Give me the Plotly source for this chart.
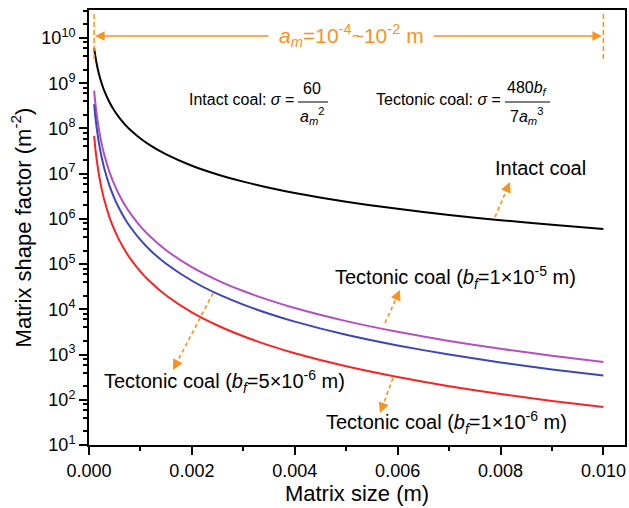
import plotly.graph_objects as go

# ---- data ----
a_m = [0.0001, 0.00012, 0.00015, 0.0002, 0.00025, 0.0003, 0.0004, 0.0005, 0.0006,
       0.0007, 0.0008, 0.001, 0.0012, 0.0015, 0.002, 0.0025, 0.003, 0.0035, 0.004,
       0.005, 0.006, 0.007, 0.008, 0.009, 0.01]
intact = [6.0e9, 4.17e9, 2.67e9, 1.5e9, 9.6e8, 6.67e8, 3.75e8, 2.4e8, 1.67e8, 1.22e8,
          9.38e7, 6.0e7, 4.17e7, 2.67e7, 1.5e7, 9.6e6, 6.67e6, 4.9e6, 3.75e6, 2.4e6,
          1.67e6, 1.22e6, 9.38e5, 7.41e5, 6.0e5]
tect_1e5 = [6.86e8, 3.97e8, 2.03e8, 8.57e7, 4.39e7, 2.54e7, 1.07e7, 5.49e6, 3.18e6, 2.0e6,
            1.34e6, 6.86e5, 3.97e5, 2.03e5, 8.57e4, 4.39e4, 2.54e4, 1.6e4, 1.07e4, 5490,
            3180, 2000, 1340, 941, 686]
tect_5e6 = [3.43e8, 1.98e8, 1.02e8, 4.29e7, 2.19e7, 1.27e7, 5.36e6, 2.74e6, 1.59e6, 1.0e6,
            6.7e5, 3.43e5, 1.98e5, 1.02e5, 4.29e4, 2.19e4, 1.27e4, 8000, 5360, 2740,
            1590, 1000, 670, 470, 343]
tect_1e6 = [6.86e7, 3.97e7, 2.03e7, 8.57e6, 4.39e6, 2.54e6, 1.07e6, 5.49e5, 3.18e5, 2.0e5,
            1.34e5, 6.86e4, 3.97e4, 2.03e4, 8570, 4390, 2540, 1600, 1070, 549,
            318, 200, 134, 94, 69]

y_tick_exp = [1, 2, 3, 4, 5, 6, 7, 8, 9, 10]
x_ticks = [0.000, 0.002, 0.004, 0.006, 0.008, 0.010]

FONT = "Liberation Sans, Arial, sans-serif"
ORANGE = "#F7931E"
W, H = 629, 508
L, R, T, B = 89, 4, 10, 63


def px(x):
    return (x - L) / (W - L - R)


def py(y):
    return (H - B - y) / (H - B - T)


fig = go.Figure()
series = [
    ("Intact coal", intact, "#000000"),
    ("bf=1e-5", tect_1e5, "#B44FC0"),
    ("bf=5e-6", tect_5e6, "#3A47B5"),
    ("bf=1e-6", tect_1e6, "#F52525"),
]
for name, ys, col in series:
    fig.add_trace(go.Scatter(x=a_m, y=ys, mode="lines", name=name,
                             line=dict(color=col, width=2, shape="spline", smoothing=0.6),
                             showlegend=False))

annotations = []
shapes = []


def text(x, y, s, size, color="black", xanchor="center"):
    annotations.append(dict(x=px(x), y=py(y), xref="paper", yref="paper", text=s,
                            showarrow=False, xanchor=xanchor, yanchor="middle",
                            font=dict(size=size, color=color, family=FONT)))


def dashed_arrow(x0, y0, x1, y1):
    dx, dy = x1 - x0, y1 - y0
    ln = (dx * dx + dy * dy) ** 0.5
    ux, uy = dx / ln, dy / ln
    hx, hy = x1 - ux * 9, y1 - uy * 9
    shapes.append(dict(type="line", xref="paper", yref="paper", x0=px(x0), y0=py(y0),
                       x1=px(hx), y1=py(hy), line=dict(color=ORANGE, width=1.6, dash="4px,3px")))
    annotations.append(dict(x=px(x1), y=py(y1), xref="paper", yref="paper", text="",
                            showarrow=True, ax=-ux * 10, ay=-uy * 10, arrowhead=2,
                            arrowsize=1.3, arrowwidth=1.6, arrowcolor=ORANGE, standoff=0))


# header range
text(351, 35, "<i>a</i><sub><i>m</i></sub>=10<sup>-4</sup>~10<sup>-2</sup> m", 21, ORANGE)
annotations.append(dict(x=px(95), y=py(36), xref="paper", yref="paper", text="", showarrow=True,
                        ax=175, ay=0, arrowhead=2, arrowsize=1.2, arrowwidth=1.6,
                        arrowcolor=ORANGE, standoff=0))
annotations.append(dict(x=px(602), y=py(36), xref="paper", yref="paper", text="", showarrow=True,
                        ax=-170, ay=0, arrowhead=2, arrowsize=1.2, arrowwidth=1.6,
                        arrowcolor=ORANGE, standoff=0))
for xv in (a_m[0], a_m[-1]):
    shapes.append(dict(type="line", xref="x", yref="paper", x0=xv, x1=xv, y0=py(14), y1=py(61),
                       line=dict(color=ORANGE, width=1.5, dash="5px,3px")))

# formulas
text(296, 100, "Intact coal: <i>σ</i> =", 16, xanchor="right")
text(312, 89, "60", 16)
shapes.append(dict(type="line", xref="paper", yref="paper", x0=px(298), x1=px(328),
                   y0=py(102), y1=py(102), line=dict(color="black", width=1)))
text(312, 116, "<i>a</i><sub><i>m</i></sub><sup>2</sup>", 16)

text(503, 100, "Tectonic coal: <i>σ</i> =", 16, xanchor="right")
text(527, 89, "480<i>b</i><sub><i>f</i></sub>", 16)
shapes.append(dict(type="line", xref="paper", yref="paper", x0=px(505), x1=px(550),
                   y0=py(102), y1=py(102), line=dict(color="black", width=1)))
text(526, 116, "7<i>a</i><sub><i>m</i></sub><sup>3</sup>", 16)

# curve labels
text(540, 168, "Intact coal", 20)
text(455, 277, "Tectonic coal (<i>b</i><sub><i>f</i></sub>=1×10<sup>-5</sup> m)", 20)
text(224, 381, "Tectonic coal (<i>b</i><sub><i>f</i></sub>=5×10<sup>-6</sup> m)", 20)
text(446, 422, "Tectonic coal (<i>b</i><sub><i>f</i></sub>=1×10<sup>-6</sup> m)", 20)

dashed_arrow(495, 217, 510, 182)
dashed_arrow(385, 323, 400, 290)
dashed_arrow(393, 378, 380, 413)
dashed_arrow(213, 293, 173, 370)

minor_y = [m * 10 ** e for e in range(1, 11) for m in (2, 4, 6, 8)]

fig.update_layout(
    width=W, height=H,
    margin=dict(l=L, r=R, t=T, b=B, autoexpand=False),
    paper_bgcolor="white", plot_bgcolor="white",
    font=dict(family=FONT, color="black"),
    annotations=annotations, shapes=shapes,
    xaxis=dict(range=[0, 0.01042], tickvals=x_ticks, ticktext=[f"{v:.3f}" for v in x_ticks],
               ticks="outside", ticklen=8, tickwidth=1.5, tickcolor="black",
               minor=dict(ticks="outside", ticklen=4, tickwidth=1.5, dtick=0.002, tick0=0.001,
                          tickcolor="black", showgrid=False),
               showline=True, linecolor="black", linewidth=2, mirror=True,
               showgrid=False, zeroline=False, tickfont=dict(size=18), automargin=False,
               title=dict(text="Matrix size (m)", font=dict(size=22), standoff=4)),
    yaxis=dict(type="log", range=[1, 10.62],
               tickvals=[10 ** e for e in y_tick_exp],
               ticktext=[f"10<sup>{e}</sup>" for e in y_tick_exp],
               ticks="outside", ticklen=8, tickwidth=1.5, tickcolor="black",
               minor=dict(ticks="outside", ticklen=4, tickwidth=1.5, tickvals=minor_y,
                          tickcolor="black", showgrid=False),
               showline=True, linecolor="black", linewidth=2, mirror=True,
               showgrid=False, zeroline=False, tickfont=dict(size=18), automargin=False,
               title=dict(text="Matrix shape factor (m<sup>-2</sup>)", font=dict(size=22),
                          standoff=4)),
)

fig.write_html("out.html", config={"displayModeBar": False},
               post_script="document.body.style.margin='0px';document.body.style.overflow='hidden';")
